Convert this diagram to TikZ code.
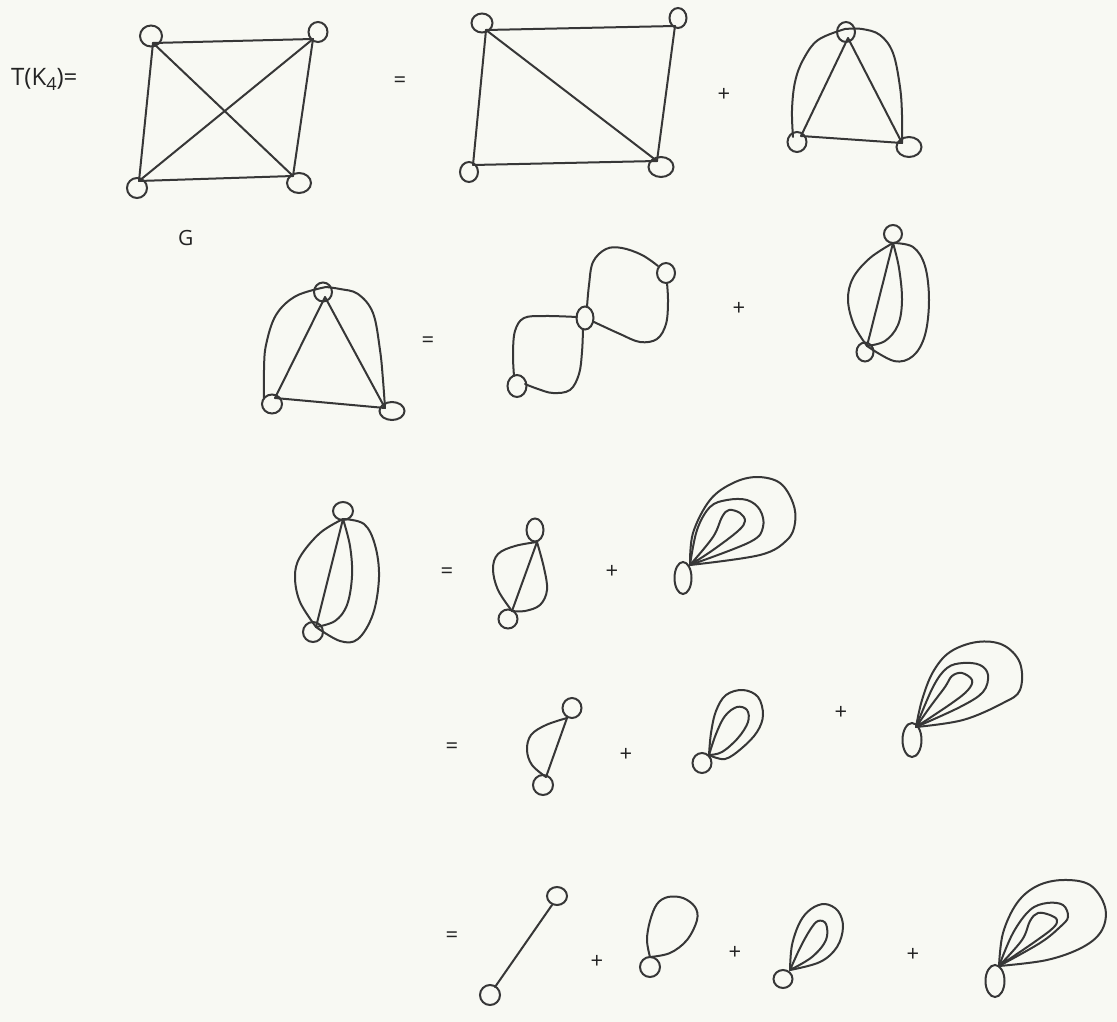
\documentclass[tikz,border=0pt]{standalone}
\usepackage{fontspec}
\setmainfont{Open Sans}
\usetikzlibrary{shapes.geometric}
\definecolor{paper}{RGB}{248,249,243}
\definecolor{ink}{RGB}{55,55,55}
\definecolor{tink}{RGB}{35,35,35}
\tikzset{
  vtx/.style={draw=ink, ellipse, inner sep=0pt, outer sep=0pt, line width=2pt},
  ln/.style={draw=ink, line width=2pt, line join=round, line cap=round},
  crv/.style={ln, smooth, tension=0.6},
  sym/.style={font=\fontsize{22}{22}\selectfont, text=tink, inner sep=0pt},
  lbl/.style={font=\fontsize{24}{24}\selectfont, text=tink, inner sep=0pt}
}
\begin{document}
\begin{tikzpicture}[x=1pt,y=-1pt]
\fill[paper] (0,0) rectangle (1117,1022);
\useasboundingbox (0,0) rectangle (1117,1022);

% ---------- labels ----------
\node[lbl, anchor=base west] (tk) at (11,86) {T(K\raisebox{-5pt}{\fontsize{18}{18}\selectfont 4})=};
\node[lbl, anchor=base west, font=\fontsize{21}{21}\selectfont] (g) at (178,245) {G};

% ---------- row 1, graph G = K4 ----------
\node[vtx, minimum width=22pt, minimum height=21pt] (a1) at (151,36) {};
\node[vtx, minimum width=19pt, minimum height=20pt] (b1) at (318,32) {};
\node[vtx, minimum width=20pt, minimum height=20pt] (c1) at (137,188) {};
\node[vtx, minimum width=24pt, minimum height=20pt] (d1) at (299,183) {};
\coordinate (A1) at (153,43); \coordinate (B1) at (313,39);
\coordinate (C1) at (139,181); \coordinate (D1) at (293,176);
\draw[ln] (A1) -- (B1);
\draw[ln] (A1) -- (C1);
\draw[ln] (A1) -- (D1);
\draw[ln] (B1) -- (C1);
\draw[ln] (B1) -- (D1);
\draw[ln] (C1) -- (D1);

\node[sym] (eq1) at (400,82) {=};

% ---------- row 1, graph G-e ----------
\node[vtx, minimum width=21pt, minimum height=19pt] (a2) at (482,23) {};
\node[vtx, minimum width=17pt, minimum height=20pt] (b2) at (678,18) {};
\node[vtx, minimum width=18pt, minimum height=20pt] (c2) at (469,172) {};
\node[vtx, minimum width=25pt, minimum height=20pt] (d2) at (661,167) {};
\coordinate (A2) at (486,30); \coordinate (B2) at (675,26);
\coordinate (C2) at (473,165); \coordinate (D2) at (657,161);
\draw[ln] (A2) -- (B2);
\draw[ln] (A2) -- (C2);
\draw[ln] (A2) -- (D2);
\draw[ln] (B2) -- (D2);
\draw[ln] (C2) -- (D2);

\node[sym] (pl1) at (724,95) {+};

% ---------- row 1, graph G/e ----------
\node[vtx, minimum width=18pt, minimum height=20pt] (a3) at (846,32) {};
\node[vtx, minimum width=19pt, minimum height=20pt] (c3) at (797,142) {};
\node[vtx, minimum width=25pt, minimum height=20pt] (d3) at (909,147) {};
\coordinate (A3) at (848,38); \coordinate (C3) at (801,136); \coordinate (D3) at (902,143);
\draw[ln] (A3) -- (C3);
\draw[ln] (A3) -- (D3);
\draw[ln] (C3) -- (D3);
\coordinate (C3l) at (793,137); \coordinate (A3t) at (845,29);
\draw[crv] plot coordinates {(C3l) (792,110) (795,82) (803,60) (818,40) (A3t)};
\draw[crv] plot coordinates {(A3t) (862,29) (880,35) (893,53) (900,87) (902,115) (D3)};

% ---------- row 2 ----------
\node[vtx, minimum width=18pt, minimum height=19pt] (a4) at (323,292) {};
\node[vtx, minimum width=20pt, minimum height=19pt] (c4) at (272,404) {};
\node[vtx, minimum width=25pt, minimum height=18pt] (d4) at (392,411) {};
\coordinate (A4) at (325,297); \coordinate (C4) at (275,398); \coordinate (D4) at (385,408);
\draw[ln] (A4) -- (C4);
\draw[ln] (A4) -- (D4);
\draw[ln] (C4) -- (D4);
\coordinate (C4l) at (264,398); \coordinate (A4t) at (326,287);
\draw[crv] plot coordinates {(C4l) (264,370) (266,345) (276,315) (296,296) (A4t)};
\draw[crv] plot coordinates {(A4t) (340,289) (358,294) (373,313) (380,350) (383,380) (D4)};

\node[sym] (eq2) at (428,342) {=};

% bowtie
\node[vtx, minimum width=17pt, minimum height=23pt] (m5) at (585,318) {};
\node[vtx, minimum width=18pt, minimum height=20pt] (r5) at (666,273) {};
\node[vtx, minimum width=19pt, minimum height=22pt] (l5) at (517,386) {};
\coordinate (M5t) at (587,307); \coordinate (M5r) at (594,322);
\coordinate (M5b) at (583,329); \coordinate (M5l) at (577,317);
\coordinate (R5l) at (658,266); \coordinate (R5b) at (667,283);
\coordinate (L5r) at (525,384); \coordinate (L5t) at (514,376);
\draw[crv] plot coordinates {(M5t) (589,285) (593,262) (606,249) (622,248) (642,255) (R5l)};
\draw[crv] plot coordinates {(R5b) (668,302) (666,324) (657,339) (640,342) (620,334) (M5r)};
\draw[crv] plot coordinates {(M5b) (582,352) (579,374) (570,390) (553,393) (538,389) (L5r)};
\draw[crv] plot coordinates {(L5t) (513,354) (515,331) (524,318) (545,316) (M5l)};

\node[sym] (pl2) at (739,309) {+};

% 2 vertices, 4 edges
\node[vtx, minimum width=18pt, minimum height=18pt] (a6) at (893,234) {};
\node[vtx, minimum width=17pt, minimum height=19pt] (b6) at (865,352) {};
\coordinate (A6) at (893,243); \coordinate (B6) at (867,346);
\draw[ln] (A6) -- (B6);
\draw[crv] plot coordinates {(A6) (870,258) (853,278) (848,300) (854,325) (B6)};
\draw[crv] plot coordinates {(A6) (899,268) (902,300) (898,325) (885,341) (B6)};
\draw[crv] plot coordinates {(A6) (913,247) (925,266) (929,300) (925,335) (913,356) (894,361) (B6)};

% ---------- row 3 ----------
\node[vtx, minimum width=20pt, minimum height=18pt] (a7) at (343,511) {};
\node[vtx, minimum width=20pt, minimum height=20pt] (b7) at (313,632) {};
\coordinate (A7) at (343,519); \coordinate (B7) at (316,627);
\draw[ln] (A7) -- (B7);
\draw[crv] plot coordinates {(A7) (320,533) (300,557) (295,577) (300,602) (B7)};
\draw[crv] plot coordinates {(A7) (350,546) (352,576) (347,605) (335,621) (B7)};
\draw[crv] plot coordinates {(A7) (364,524) (375,545) (379,577) (373,614) (358,639) (340,641) (B7)};

\node[sym] (eq3) at (447,573) {=};

\node[vtx, minimum width=17pt, minimum height=23pt] (a8) at (535,530) {};
\node[vtx, minimum width=19pt, minimum height=19pt] (b8) at (508,619) {};
\coordinate (A8) at (537,542); \coordinate (B8) at (512,611);
\draw[ln] (A8) -- (B8);
\draw[crv] plot coordinates {(A8) (515,546) (498,554) (493,569) (498,590) (B8)};
\draw[crv] plot coordinates {(A8) (544,568) (547,590) (540,605) (525,611) (B8)};

\node[sym] (pl3) at (612,572) {+};

\node[vtx, minimum width=17pt, minimum height=32pt] (v9) at (683,578) {};
\coordinate (B9) at (690,565);
\draw[crv] plot coordinates {(B9) (693,533) (710,500) (733,483) (757,477) (780,483) (793,503) (795,523) (787,540) (760,555) (B9)};
\draw[crv] plot coordinates {(B9) (697,530) (710,507) (727,500) (747,500) (760,510) (763,527) (750,542) (B9)};
\draw[crv] plot coordinates {(B9) (713,537) (722,517) (729,510) (740,513) (745,521) (738,531) (713,550) (B9)};

% ---------- row 4 ----------
\node[sym] (eq4) at (452,748) {=};

\node[vtx, minimum width=19pt, minimum height=20pt] (a10) at (572,708) {};
\node[vtx, minimum width=20pt, minimum height=20pt] (b10) at (543,785) {};
\coordinate (A10) at (567,718); \coordinate (B10) at (546,777);
\draw[ln] (A10) -- (B10);
\draw[crv] plot coordinates {(A10) (546,725) (531,735) (527,750) (532,765) (B10)};

\node[sym] (pl4) at (626,755) {+};

\node[vtx, minimum width=19pt, minimum height=20pt] (v11) at (702,763) {};
\coordinate (B11) at (709,755);
\draw[crv] plot coordinates {(B11) (711,733) (716,711) (726,695) (743,690) (758,697) (763,715) (757,732) (742,748) (725,759) (B11)};
\draw[crv] plot coordinates {(B11) (716,734) (725,716) (737,707) (747,710) (748,722) (738,738) (722,752) (B11)};

\node[sym] (pl5) at (841,713) {+};

\node[vtx, minimum width=19pt, minimum height=34pt] (v12) at (912,740) {};
\coordinate (B12) at (916,727);
\draw[crv] plot coordinates {(B12) (922,700) (933,672) (950,652) (977,642) (1003,645) (1020,663) (1020,690) (1003,703) (963,720) (B12)};
\draw[crv] plot coordinates {(B12) (933,687) (947,668) (963,663) (980,665) (988,675) (983,692) (960,707) (B12)};
\draw[crv] plot coordinates {(B12) (930,707) (945,687) (952,676) (962,673) (972,680) (968,690) (952,703) (B12)};

% ---------- row 5 ----------
\node[sym] (eq5) at (452,937) {=};

\node[vtx, minimum width=20pt, minimum height=18pt] (a13) at (557,896) {};
\node[vtx, minimum width=20pt, minimum height=20pt] (b13) at (490,995) {};
\coordinate (A13) at (552,905); \coordinate (B13) at (495,987);
\draw[ln] (A13) -- (B13);

\node[sym] (pl6) at (597,962) {+};

\node[vtx, minimum width=20pt, minimum height=20pt] (v14) at (650,967) {};
\coordinate (B14) at (650,957);
\draw[crv] plot coordinates {(B14) (647,940) (650,921) (657,904) (668,897) (683,898) (695,907) (697,920) (687,940) (670,953) (B14)};

\node[sym] (pl7) at (735,953) {+};

\node[vtx, minimum width=19pt, minimum height=18pt] (v15) at (783,979) {};
\coordinate (B15) at (790,970);
\draw[crv] plot coordinates {(B15) (792,945) (800,922) (811,909) (825,904) (838,911) (843,927) (837,947) (820,962) (B15)};
\draw[crv] plot coordinates {(B15) (800,948) (810,930) (818,921) (826,924) (826,940) (812,957) (B15)};

\node[sym] (pl8) at (913,955) {+};

\node[vtx, minimum width=19pt, minimum height=32pt] (v16) at (995,981) {};
\coordinate (B16) at (999,966);
\draw[crv] plot coordinates {(B16) (1003,933) (1017,903) (1037,886) (1063,880) (1090,885) (1105,907) (1102,930) (1083,947) (1047,960) (B16)};
\draw[crv] plot coordinates {(B16) (1013,933) (1030,910) (1047,903) (1063,905) (1068,917) (1060,927) (1040,943) (B16)};
\draw[crv] plot coordinates {(B16) (1022,940) (1030,921) (1038,913) (1050,915) (1057,920) (1053,928) (1033,943) (B16)};
\end{tikzpicture}
\end{document}
